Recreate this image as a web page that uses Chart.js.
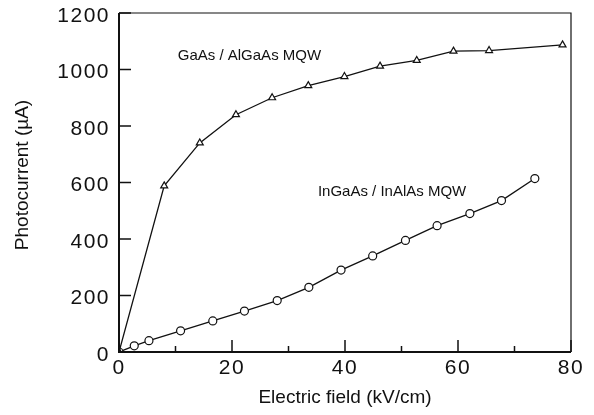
<!DOCTYPE html>
<html>
<head>
<meta charset="utf-8">
<script src="https://cdn.jsdelivr.net/npm/chart.js@4"></script>
<style>
  html, body { margin: 0; padding: 0; background: #fff; }
  #wrap { width: 594px; height: 415px; }
</style>
</head>
<body>
<div id="wrap"><canvas id="chart" width="594" height="415"></canvas></div>
<script>
// GaAs / AlGaAs MQW (triangles)
const gaasField = [0, 8.0, 14.3, 20.7, 27.1, 33.5, 39.9, 46.2, 52.7, 59.2, 65.5, 78.5];
const gaasCurrent = [0, 588, 740, 840, 900, 943, 975, 1012, 1032, 1065, 1067, 1087];

// InGaAs / InAlAs MQW (circles)
const ingaasField = [0, 2.7, 5.3, 10.9, 16.6, 22.2, 28.0, 33.6, 39.3, 44.9, 50.7, 56.3, 62.1, 67.7, 73.6];
const ingaasCurrent = [0, 22, 40, 75, 110, 145, 182, 229, 290, 340, 395, 447, 490, 536, 614];

// axis ticks
const xTicks = [0, 20, 40, 60, 80];
const xMinorTicks = [10, 30, 50, 70];
const yTicks = [0, 200, 400, 600, 800, 1000, 1200];

const xTitle = 'Electric field (kV/cm)';
const yTitle = 'Photocurrent (µA)';

// curve labels: [text, x, y]
const curveLabels = [
    ['GaAs / AlGaAs MQW', 10.4, 1048],
    ['InGaAs / InAlAs MQW', 35.2, 566]
];

const ink = '#111';
const family = '"Liberation Sans", Arial, sans-serif';

function toPoints(xs, ys) {
    return xs.map((x, i) => ({ x: x, y: ys[i] }));
}

// Frame, inward tick marks, axis titles and curve labels
const figurePlugin = {
    id: 'figure',
    beforeDraw(chart) {
        // the tick numbers in the figure are a little spaced out
        chart.ctx.letterSpacing = '1.5px';
    },
    afterDraw(chart) {
        const ctx = chart.ctx;
        const area = chart.chartArea;
        const xs = chart.scales.x;
        const ys = chart.scales.y;
        ctx.letterSpacing = '0px';
        ctx.save();
        ctx.strokeStyle = ink;

        // box
        ctx.lineWidth = 1.2;
        ctx.beginPath();
        ctx.moveTo(area.left, area.top);
        ctx.lineTo(area.right, area.top);
        ctx.lineTo(area.right, area.bottom);
        ctx.stroke();
        ctx.lineWidth = 2;
        ctx.beginPath();
        ctx.moveTo(area.left, area.top);
        ctx.lineTo(area.left, area.bottom);
        ctx.lineTo(area.right, area.bottom);
        ctx.stroke();

        // inward ticks
        ctx.lineWidth = 1.5;
        ctx.beginPath();
        xTicks.forEach(v => {
            const px = xs.getPixelForValue(v);
            ctx.moveTo(px, area.bottom);
            ctx.lineTo(px, area.bottom - 12);
        });
        xMinorTicks.forEach(v => {
            const px = xs.getPixelForValue(v);
            ctx.moveTo(px, area.bottom);
            ctx.lineTo(px, area.bottom - 6);
        });
        yTicks.forEach(v => {
            const py = ys.getPixelForValue(v);
            ctx.moveTo(area.left, py);
            ctx.lineTo(area.left + 12, py);
        });
        ctx.stroke();

        ctx.fillStyle = ink;
        ctx.textBaseline = 'middle';

        // axis titles
        ctx.font = '19px ' + family;
        ctx.textAlign = 'center';
        ctx.fillText(xTitle, (area.left + area.right) / 2, 398);
        ctx.save();
        ctx.translate(23, 175);
        ctx.rotate(-Math.PI / 2);
        ctx.fillText(yTitle, 0, 0);
        ctx.restore();

        // curve labels
        ctx.font = '15px ' + family;
        ctx.textAlign = 'left';
        curveLabels.forEach(([text, x, y]) => {
            ctx.fillText(text, xs.getPixelForValue(x), ys.getPixelForValue(y));
        });
        ctx.restore();
    }
};

const ctx = document.getElementById('chart').getContext('2d');
new Chart(ctx, {
    type: 'line',
    data: {
        datasets: [
            {
                label: 'GaAs / AlGaAs MQW',
                data: toPoints(gaasField, gaasCurrent),
                borderColor: ink,
                borderWidth: 1.3,
                pointStyle: 'triangle',
                pointRadius: 4,
                pointBorderWidth: 1.2,
                pointBorderColor: ink,
                pointBackgroundColor: '#fff',
                tension: 0
            },
            {
                label: 'InGaAs / InAlAs MQW',
                data: toPoints(ingaasField, ingaasCurrent),
                borderColor: ink,
                borderWidth: 1.3,
                pointStyle: 'circle',
                pointRadius: 4,
                pointBorderWidth: 1.2,
                pointBorderColor: ink,
                pointBackgroundColor: '#fff',
                tension: 0
            }
        ]
    },
    options: {
        responsive: false,
        animation: false,
        events: [],
        layout: { padding: { left: 0, right: 23, top: 13, bottom: 0 } },
        plugins: {
            legend: { display: false },
            tooltip: { enabled: false }
        },
        scales: {
            x: {
                type: 'linear',
                min: 0,
                max: 80,
                afterBuildTicks: scale => { scale.ticks = xTicks.map(v => ({ value: v })); },
                afterFit: scale => {
                    scale.height = 63;
                    scale.paddingLeft = 0;
                    scale.paddingRight = 0;
                },
                grid: { display: false, drawTicks: false },
                border: { display: false },
                ticks: {
                    color: ink,
                    padding: 4,
                    callback: v => String(v),
                    font: { family: family, size: 21 }
                }
            },
            y: {
                type: 'linear',
                min: 0,
                max: 1200,
                afterBuildTicks: scale => { scale.ticks = yTicks.map(v => ({ value: v })); },
                afterFit: scale => {
                    scale.width = 119;
                    scale.paddingTop = 0;
                    scale.paddingBottom = 0;
                },
                grid: { display: false, drawTicks: false },
                border: { display: false },
                ticks: {
                    color: ink,
                    padding: 9,
                    labelOffset: 3,
                    callback: v => String(v),
                    font: { family: family, size: 21 }
                }
            }
        }
    },
    plugins: [figurePlugin]
});
</script>
</body>
</html>
